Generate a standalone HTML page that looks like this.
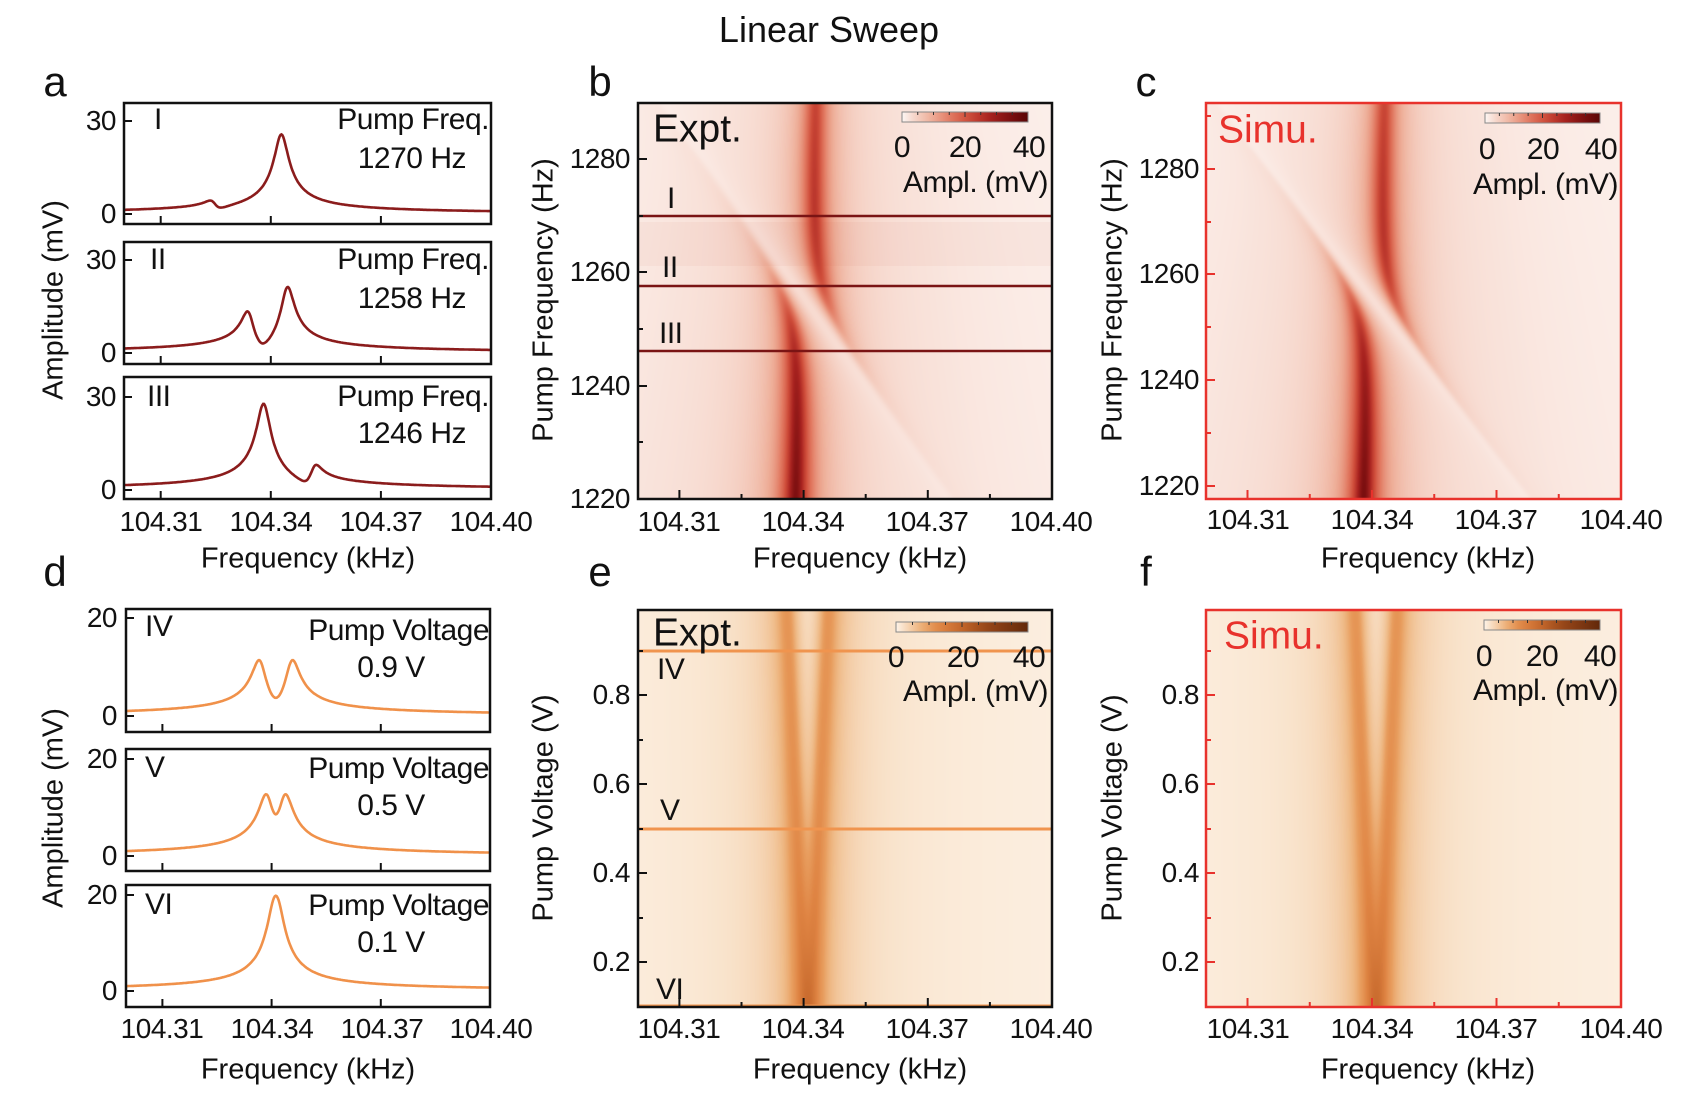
<!DOCTYPE html>
<html><head><meta charset="utf-8">
<style>
html,body{margin:0;padding:0;background:#fff;}
body{width:1684px;height:1106px;position:relative;overflow:hidden;font-family:"Liberation Sans",Arial,sans-serif;color:#111;}
.t{position:absolute;white-space:nowrap;line-height:1;}
.c{transform:translate(-50%,-50%);}
.r{transform:translate(-100%,-50%);}
.l{transform:translate(0,-50%);}
.tk{font-size:28px;letter-spacing:-0.5px;}
.ax{font-size:29px;}
.pl{font-size:42px;}
.lg{font-size:30px;letter-spacing:-0.5px;}
.rot{transform:translate(-50%,-50%) rotate(-90deg);}
canvas{position:absolute;}
svg{position:absolute;left:0;top:0;}
</style></head><body>
<canvas id="hb" style="left:638px;top:103px" width="414" height="396"></canvas>
<canvas id="hc" style="left:1206px;top:103px" width="415" height="396"></canvas>
<canvas id="he" style="left:638px;top:610px" width="414" height="397"></canvas>
<canvas id="hf" style="left:1206px;top:610px" width="415" height="397"></canvas>
<svg id="ov" width="1684" height="1106"></svg>

<div class="t c" style="left:829px;top:30px;font-size:36px">Linear Sweep</div>
<div class="t c pl" style="left:55px;top:82px">a</div>
<div class="t c pl" style="left:600px;top:82px">b</div>
<div class="t c pl" style="left:1146px;top:82px">c</div>
<div class="t c pl" style="left:55px;top:572px">d</div>
<div class="t c pl" style="left:600px;top:572px">e</div>
<div class="t c pl" style="left:1146px;top:572px">f</div>

<!-- panel a -->
<div class="t r tk" style="left:116px;top:121px">30</div>
<div class="t r tk" style="left:116px;top:214px">0</div>
<div class="t r tk" style="left:116px;top:260px">30</div>
<div class="t r tk" style="left:116px;top:353px">0</div>
<div class="t r tk" style="left:116px;top:397px">30</div>
<div class="t r tk" style="left:116px;top:490px">0</div>
<div class="t l lg" style="left:154px;top:120px">I</div>
<div class="t l lg" style="left:150px;top:260px">II</div>
<div class="t l lg" style="left:147px;top:397px">III</div>
<div class="t r lg" style="left:489px;top:120px">Pump Freq.</div>
<div class="t r lg" style="left:466px;top:159px">1270 Hz</div>
<div class="t r lg" style="left:489px;top:260px">Pump Freq.</div>
<div class="t r lg" style="left:466px;top:299px">1258 Hz</div>
<div class="t r lg" style="left:489px;top:397px">Pump Freq.</div>
<div class="t r lg" style="left:466px;top:434px">1246 Hz</div>
<div class="t rot ax" style="left:54px;top:300px">Amplitude (mV)</div>
<div class="t c tk" style="left:161px;top:522px">104.31</div>
<div class="t c tk" style="left:271px;top:522px">104.34</div>
<div class="t c tk" style="left:381px;top:522px">104.37</div>
<div class="t c tk" style="left:491px;top:522px">104.40</div>
<div class="t c ax" style="left:308px;top:559px">Frequency (kHz)</div>

<!-- panel b -->
<div class="t r tk" style="left:630px;top:159px">1280</div>
<div class="t r tk" style="left:630px;top:272px">1260</div>
<div class="t r tk" style="left:630px;top:386px">1240</div>
<div class="t r tk" style="left:630px;top:499px">1220</div>
<div class="t rot ax" style="left:544px;top:300px">Pump Frequency (Hz)</div>
<div class="t c tk" style="left:679px;top:522px">104.31</div>
<div class="t c tk" style="left:803px;top:522px">104.34</div>
<div class="t c tk" style="left:927px;top:522px">104.37</div>
<div class="t c tk" style="left:1051px;top:522px">104.40</div>
<div class="t c ax" style="left:860px;top:559px">Frequency (kHz)</div>
<div class="t l" style="left:653px;top:129px;font-size:39px">Expt.</div>
<div class="t l lg" style="left:667px;top:199px">I</div>
<div class="t l lg" style="left:662px;top:268px">II</div>
<div class="t l lg" style="left:659px;top:334px">III</div>
<div class="t c lg" style="left:902px;top:148px">0</div>
<div class="t c lg" style="left:965px;top:148px">20</div>
<div class="t c lg" style="left:1029px;top:148px">40</div>
<div class="t r lg" style="left:1048px;top:183px">Ampl. (mV)</div>

<!-- panel c -->
<div class="t r tk" style="left:1199px;top:169px">1280</div>
<div class="t r tk" style="left:1199px;top:274px">1260</div>
<div class="t r tk" style="left:1199px;top:380px">1240</div>
<div class="t r tk" style="left:1199px;top:486px">1220</div>
<div class="t rot ax" style="left:1113px;top:300px">Pump Frequency (Hz)</div>
<div class="t c tk" style="left:1248px;top:520px">104.31</div>
<div class="t c tk" style="left:1372px;top:520px">104.34</div>
<div class="t c tk" style="left:1496px;top:520px">104.37</div>
<div class="t c tk" style="left:1621px;top:520px">104.40</div>
<div class="t c ax" style="left:1428px;top:559px">Frequency (kHz)</div>
<div class="t l" style="left:1218px;top:130px;font-size:39px;color:#e8322c">Simu.</div>
<div class="t c lg" style="left:1487px;top:150px">0</div>
<div class="t c lg" style="left:1543px;top:150px">20</div>
<div class="t c lg" style="left:1601px;top:150px">40</div>
<div class="t r lg" style="left:1618px;top:185px">Ampl. (mV)</div>

<!-- panel d -->
<div class="t r tk" style="left:117px;top:618px">20</div>
<div class="t r tk" style="left:117px;top:716px">0</div>
<div class="t r tk" style="left:117px;top:759px">20</div>
<div class="t r tk" style="left:117px;top:856px">0</div>
<div class="t r tk" style="left:117px;top:895px">20</div>
<div class="t r tk" style="left:117px;top:991px">0</div>
<div class="t l lg" style="left:145px;top:627px">IV</div>
<div class="t l lg" style="left:145px;top:768px">V</div>
<div class="t l lg" style="left:145px;top:905px">VI</div>
<div class="t r lg" style="left:489px;top:631px">Pump Voltage</div>
<div class="t c lg" style="left:391px;top:668px">0.9 V</div>
<div class="t r lg" style="left:489px;top:769px">Pump Voltage</div>
<div class="t c lg" style="left:391px;top:806px">0.5 V</div>
<div class="t r lg" style="left:489px;top:906px">Pump Voltage</div>
<div class="t c lg" style="left:391px;top:943px">0.1 V</div>
<div class="t rot ax" style="left:54px;top:808px">Amplitude (mV)</div>
<div class="t c tk" style="left:162px;top:1029px">104.31</div>
<div class="t c tk" style="left:272px;top:1029px">104.34</div>
<div class="t c tk" style="left:382px;top:1029px">104.37</div>
<div class="t c tk" style="left:491px;top:1029px">104.40</div>
<div class="t c ax" style="left:308px;top:1070px">Frequency (kHz)</div>

<!-- panel e -->
<div class="t r tk" style="left:630px;top:695px">0.8</div>
<div class="t r tk" style="left:630px;top:784px">0.6</div>
<div class="t r tk" style="left:630px;top:873px">0.4</div>
<div class="t r tk" style="left:630px;top:962px">0.2</div>
<div class="t rot ax" style="left:544px;top:808px">Pump Voltage (V)</div>
<div class="t c tk" style="left:679px;top:1029px">104.31</div>
<div class="t c tk" style="left:803px;top:1029px">104.34</div>
<div class="t c tk" style="left:927px;top:1029px">104.37</div>
<div class="t c tk" style="left:1051px;top:1029px">104.40</div>
<div class="t c ax" style="left:860px;top:1070px">Frequency (kHz)</div>
<div class="t l" style="left:653px;top:633px;font-size:39px">Expt.</div>
<div class="t l lg" style="left:657px;top:670px">IV</div>
<div class="t l lg" style="left:660px;top:811px">V</div>
<div class="t l lg" style="left:656px;top:990px">VI</div>
<div class="t c lg" style="left:896px;top:658px">0</div>
<div class="t c lg" style="left:963px;top:658px">20</div>
<div class="t c lg" style="left:1029px;top:658px">40</div>
<div class="t r lg" style="left:1048px;top:692px">Ampl. (mV)</div>

<!-- panel f -->
<div class="t r tk" style="left:1199px;top:695px">0.8</div>
<div class="t r tk" style="left:1199px;top:784px">0.6</div>
<div class="t r tk" style="left:1199px;top:873px">0.4</div>
<div class="t r tk" style="left:1199px;top:962px">0.2</div>
<div class="t rot ax" style="left:1113px;top:808px">Pump Voltage (V)</div>
<div class="t c tk" style="left:1248px;top:1029px">104.31</div>
<div class="t c tk" style="left:1372px;top:1029px">104.34</div>
<div class="t c tk" style="left:1496px;top:1029px">104.37</div>
<div class="t c tk" style="left:1621px;top:1029px">104.40</div>
<div class="t c ax" style="left:1428px;top:1070px">Frequency (kHz)</div>
<div class="t l" style="left:1224px;top:636px;font-size:39px;color:#e8322c">Simu.</div>
<div class="t c lg" style="left:1484px;top:657px">0</div>
<div class="t c lg" style="left:1542px;top:657px">20</div>
<div class="t c lg" style="left:1600px;top:657px">40</div>
<div class="t r lg" style="left:1618px;top:691px">Ampl. (mV)</div>

<script>
function hex(h){return [parseInt(h.substr(1,2),16),parseInt(h.substr(3,2),16),parseInt(h.substr(5,2),16)];}
var RED=[[0,'#fdf6f3'],[2,'#f9e3db'],[5,'#f5d0c3'],[10,'#eeae98'],[16,'#e27a62'],[22,'#cf4d3a'],[29,'#a92320'],[36,'#7c0f10'],[42,'#5a0606']];
var ORG=[[0,'#fdf3e8'],[2,'#f9e4cd'],[4,'#f5d3b1'],[7,'#efbb88'],[10,'#e89d5e'],[14,'#df8443'],[20,'#c86a2d'],[28,'#9a4819'],[42,'#62280a']];
RED=RED.map(function(s){return [s[0],hex(s[1])]});ORG=ORG.map(function(s){return [s[0],hex(s[1])]});
function cm(st,v){if(v<=st[0][0])return st[0][1];for(var i=1;i<st.length;i++){if(v<=st[i][0]){var a=st[i-1],b=st[i],t=(v-a[0])/(b[0]-a[0]);return [a[1][0]+t*(b[1][0]-a[1][0]),a[1][1]+t*(b[1][1]-a[1][1]),a[1][2]+t*(b[1][2]-a[1][2])];}}return st[st.length-1][1];}
function resp(f,fm,fp,g,ga,gp,C){var dp=fp-f,M=dp*dp+gp*gp;var re=(fm-f)-g*g*dp/M;var im=-ga-g*g*gp/M;return C/Math.sqrt(re*re+im*im);}
function ampB(f,P,sim){var fm=104.3405+(P-1255)*0.00005;var fp=104.3405-(P-1255)*0.001;var sc=1+(1255-P)*0.006;return resp(f,fm,fp,0.005,0.002,sim?0.0012:0.0015,0.06*sc);}
function ampE(f,V){return resp(f,104.341,104.341,0.0048*V,0.002,0.002,0.042);}
function heat(id,fmin,fmax,ytop,ybot,fn,st){var c=document.getElementById(id),x=c.getContext('2d'),W=c.width,H=c.height,im=x.createImageData(W,H),d=im.data;
for(var j=0;j<H;j++){var p=ytop+(ybot-ytop)*(j+0.5)/H;for(var i=0;i<W;i++){var f=fmin+(fmax-fmin)*(i+0.5)/W;var col=cm(st,fn(f,p));var k=(j*W+i)*4;d[k]=col[0];d[k+1]=col[1];d[k+2]=col[2];d[k+3]=255;}}x.putImageData(im,0,0);}
heat('hb',104.30,104.40,1290,1219.8,function(f,p){return ampB(f,p,false);},RED);
heat('hc',104.30,104.40,1292.7,1217.5,function(f,p){return ampB(f,p,true);},RED);
heat('he',104.30,104.40,0.993,0.097,ampE,ORG);
heat('hf',104.30,104.40,0.993,0.097,ampE,ORG);
var S='';
function ln(x1,y1,x2,y2,c,w){S+='<line x1="'+x1+'" y1="'+y1+'" x2="'+x2+'" y2="'+y2+'" stroke="'+c+'" stroke-width="'+w+'"/>';}
function rect(x,y,w,h,c,sw){S+='<rect x="'+x+'" y="'+y+'" width="'+w+'" height="'+h+'" fill="none" stroke="'+c+'" stroke-width="'+sw+'"/>';}
function curve(x0,x1,y0,sc,fn,col){var pts=[];for(var i=0;i<=400;i++){var f=104.30+0.1*i/400;var X=x0+(x1-x0)*i/400;pts.push(X.toFixed(1)+','+(y0-sc*fn(f)).toFixed(1));}S+='<polyline points="'+pts.join(' ')+'" fill="none" stroke="'+col+'" stroke-width="2.6"/>';}
S+='<rect x="639" y="222" width="412" height="44" fill="#c84a38" opacity="0.05"/>';
var aBoxes=[[103,224,214,121,1270],[242,364,353,260,1258],[377,499,490,397,1246]];
aBoxes.forEach(function(b){var sc=(b[2]-b[3])/30;curve(125,491,b[2],sc,function(f){return ampB(f,b[4],false);},'#8b1c1c');
rect(124,b[0],367,b[1]-b[0],'#111',2.5);[104.31,104.34,104.37].forEach(function(f){var X=124+(f-104.30)*3670;ln(X,b[1],X,b[1]-8,'#111',2);});ln(124,b[2],132,b[2],'#111',2);ln(124,b[3],132,b[3],'#111',2);});
var dBoxes=[[609,732,716,618,0.9],[749,871,856,759,0.5],[885,1007,991,895,0.1]];
dBoxes.forEach(function(b){var sc=(b[2]-b[3])/20;curve(127,490,b[2],sc,function(f){return ampE(f,b[4]);},'#f0914a');
rect(126,b[0],364,b[1]-b[0],'#111',2.5);[104.31,104.34,104.37].forEach(function(f){var X=126+(f-104.30)*3640;ln(X,b[1],X,b[1]-8,'#111',2);});ln(126,b[2],134,b[2],'#111',2);ln(126,b[3],134,b[3],'#111',2);});
[216,286,351].forEach(function(y){ln(638,y,1052,y,'#7a1414',2.5);});
[651,829,1006].forEach(function(y){ln(638,y,1052,y,'#f0944e',3);});
function frame(x0,y0,x1,y1,col,yt,ymt){rect(x0,y0,x1-x0,y1-y0,col,2.5);var k=(x1-x0)/0.1;
for(var f=104.31;f<104.40;f+=0.015){var X=x0+(f-104.30)*k;var maj=Math.abs(((f-104.31)/0.03)-Math.round((f-104.31)/0.03))<0.01;ln(X,y1,X,y1-(maj?9:5),col,2);}
yt.forEach(function(y){ln(x0,y,x0+9,y,col,2);});ymt.forEach(function(y){ln(x0,y,x0+5,y,col,2);});}
frame(638,103,1052,499,'#111',[159,272,386,499],[216,329,442]);
frame(1206,103,1621,499,'#e8322c',[169,274,380,486],[116,222,327,433]);
frame(638,610,1052,1007,'#111',[695,784,873,962],[651,740,829,918]);
frame(1206,610,1621,1007,'#e8322c',[695,784,873,962],[651,740,829,918]);
function cbar(x,y,w,h,st,id){S+='<defs><linearGradient id="'+id+'">';for(var i=0;i<=10;i++){var c=cm(st,42*i/10);S+='<stop offset="'+(i*10)+'%" stop-color="rgb('+c.map(Math.round).join(',')+')"/>';}S+='</linearGradient></defs><rect x="'+x+'" y="'+y+'" width="'+w+'" height="'+h+'" fill="url(#'+id+')" stroke="#888" stroke-width="1"/>';
for(var i=1;i<8;i++){var X=x+w*i/8;ln(X,y,X,y+(i==4?5:3),'#333',1);}}
cbar(902,112,126,10,RED,'g1');cbar(1485,113,115,10,RED,'g2');cbar(896,622,132,10,ORG,'g3');cbar(1484,620,116,10,ORG,'g4');
document.getElementById('ov').innerHTML=S;
</script>
</body></html>
